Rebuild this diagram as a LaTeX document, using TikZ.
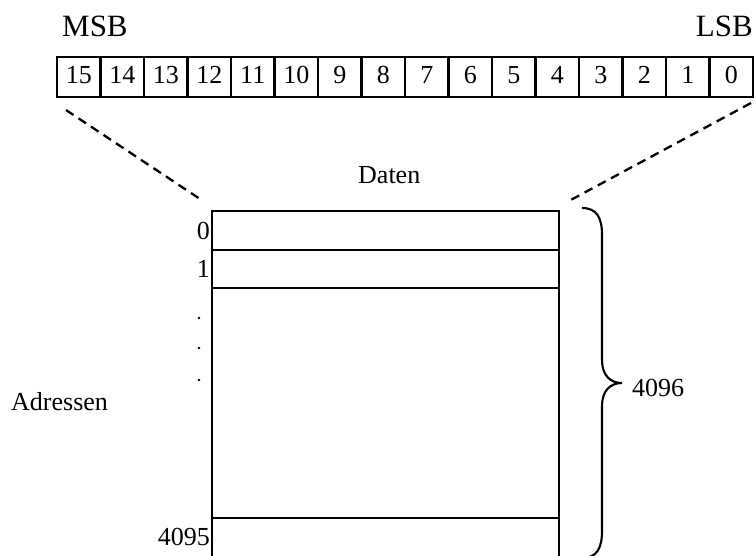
\documentclass[tikz,border=0pt]{standalone}
\usepackage{fontspec}
\setmainfont{Liberation Serif}
\begin{document}
\begin{tikzpicture}[x=1pt,y=-1pt,
  bitcell/.style={draw,line width=2.8pt,minimum width=43.5pt,minimum height=40pt,
    inner sep=0pt,text height=18pt,text depth=6pt,font=\fontsize{26}{30}\selectfont},
  lbl/.style={inner sep=0pt,font=\fontsize{26}{30}\selectfont},
  biglbl/.style={inner sep=0pt,font=\fontsize{31}{36}\selectfont},
  memline/.style={line width=2.8pt},
  zoomline/.style={line width=2.3pt,dash pattern=on 9pt off 6pt},
  bracepath/.style={line width=2.1pt}]
\useasboundingbox (0,0) rectangle (756,555);

% register bits 15 ... 0
\foreach \b [count=\k from 0] in {15,14,13,12,11,10,9,8,7,6,5,4,3,2,1,0}
  \node[bitcell] (b\b) at ({57+43.5*\k+21.75},77) {\b};

\node[biglbl,anchor=base west] (msb) at (62,36) {MSB};
\node[biglbl,anchor=base east] (lsb) at (753,36) {LSB};

% memory block
\coordinate (tl) at (212,211);
\coordinate (tr) at (559,211);
\coordinate (bl) at (212,560);
\coordinate (br) at (559,560);
\draw[memline] (bl) -- (tl) -- (tr) -- (br);
\draw[memline] (212,250) -- (559,250);
\draw[memline] (212,288) -- (559,288);
\draw[memline] (212,518) -- (559,518);

% zoom lines from the register to the memory word
\coordinate (zl1) at (66,110);
\coordinate (zl2) at (203,201);
\coordinate (zr1) at (751,103);
\coordinate (zr2) at (567,202);
\draw[zoomline] (zl1) -- (zl2);
\draw[zoomline] (zr1) -- (zr2);

\node[lbl,anchor=base west] (daten) at (358,183) {Daten};
\node[lbl,anchor=base west] (adr) at (11,410) {Adressen};

\node[lbl,anchor=base east] (a0) at (210,239) {0};
\node[lbl,anchor=base east] (a1) at (210,277) {1};
\node[lbl,anchor=base east] (alast) at (210,545) {4095};
\foreach \y [count=\k] in {318,348,380}
  \fill (199,\y) circle (1.3pt) coordinate (dot\k);

% brace over all words
\draw[bracepath] (582,208) .. controls (597,208) and (602,218) .. (602,235)
  -- (602,360) .. controls (602,375) and (610,383) .. (622,383)
  .. controls (610,383) and (602,391) .. (602,406)
  -- (602,531) .. controls (602,548) and (597,558) .. (582,558);
\node[lbl,anchor=base west] (cnt) at (632,396) {4096};
\end{tikzpicture}
\end{document}
